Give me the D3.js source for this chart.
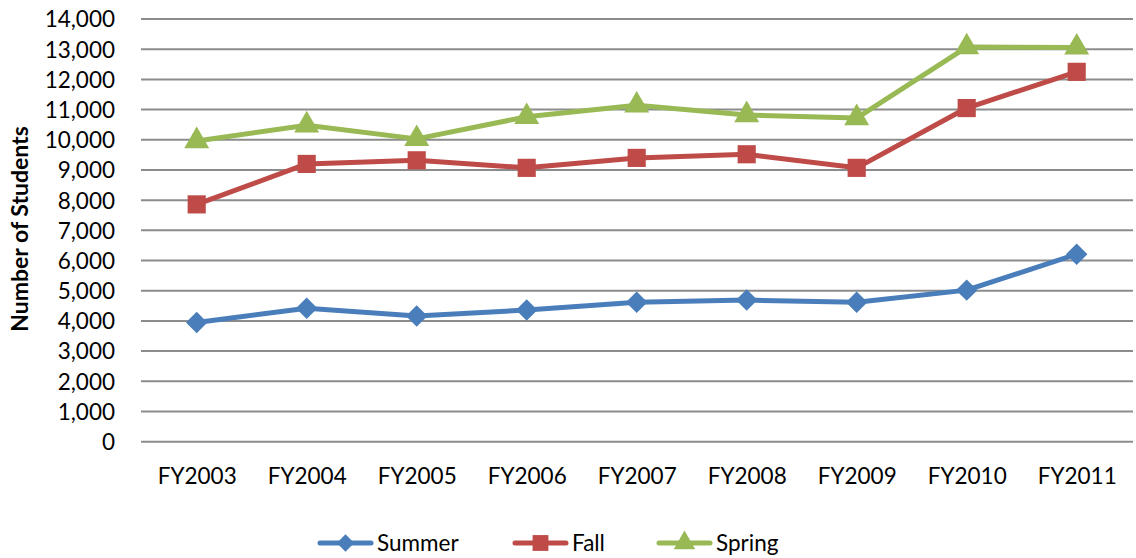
<!DOCTYPE html>
<html><head><meta charset="utf-8">
<script src="https://cdn.jsdelivr.net/npm/d3@7"></script>
<style>body{margin:0;background:#fff}svg{display:block}text{font-family:Lato,"Open Sans",sans-serif;fill:#000}</style>
</head><body><svg id="c" width="1136" height="558"></svg>
<script>
const categories = ["FY2003","FY2004","FY2005","FY2006","FY2007","FY2008","FY2009","FY2010","FY2011"];
const summer = [3950,4420,4160,4360,4620,4690,4620,5020,6210];
const fall   = [7860,9200,9320,9070,9400,9520,9070,11050,12250];
const spring = [9960,10480,10030,10760,11140,10820,10720,13070,13060];
const yTicks = [0,1000,2000,3000,4000,5000,6000,7000,8000,9000,10000,11000,12000,13000,14000];
const seriesNames = ["Summer","Fall","Spring"];
const seriesColors = ["#4A7EBB","#BE4B48","#98B954"];
const seriesData = [summer, fall, spring];
const markerTypes = [d3.symbolSquare, d3.symbolSquare, d3.symbolTriangle];
const markerRot = [45, 0, 0];

const svg = d3.select("#c");
const x = d3.scalePoint().domain(categories).range([141.7,1131.7]).padding(0.5);
const y = d3.scaleLinear().domain([0,14000]).range([441.7,19]);

// gridlines
svg.append("g").selectAll("line").data(yTicks).join("line")
  .attr("x1",141).attr("x2",1133)
  .attr("y1",d=>y(d)).attr("y2",d=>y(d))
  .attr("stroke","#8c8c8c").attr("stroke-width",2);

// y axis labels
const yAxis = d3.axisLeft(y).tickValues(yTicks).tickFormat(d3.format(",")).tickSize(0).tickPadding(0);
const yg = svg.append("g").attr("transform","translate(115,0)").call(yAxis);
yg.select(".domain").remove();
yg.selectAll("text").attr("font-size",22.5).attr("font-family","Lato").attr("fill","#000").attr("dy","0.35em");

// x axis labels
const xAxis = d3.axisBottom(x).tickSize(0).tickPadding(0);
const xg = svg.append("g").attr("transform","translate(0,468)").call(xAxis);
xg.select(".domain").remove();
xg.selectAll("text").attr("font-size",22.5).attr("font-family","Lato").attr("fill","#000").attr("dy","0.71em");

// y title
svg.append("text").attr("transform","translate(28,229) rotate(-90)")
  .attr("text-anchor","middle").attr("font-size",23).attr("font-weight","bold")
  .text("Number of Students");

const line = d3.line().x((d,i)=>x(categories[i])).y(d=>y(d));
seriesData.forEach((data,k)=>{
  svg.append("path").datum(data).attr("d",line)
    .attr("fill","none").attr("stroke",seriesColors[k]).attr("stroke-width",5)
    .attr("stroke-linejoin","round").attr("stroke-linecap","round");
  const sizes = [230,330,270];
  svg.append("g").selectAll("path").data(data).join("path")
    .attr("transform",(d,i)=>`translate(${x(categories[i])},${y(d)}) rotate(${markerRot[k]})`)
    .attr("d",d3.symbol().type(markerTypes[k]).size(sizes[k]))
    .attr("fill",seriesColors[k]);
});

// legend
const legX = [320,515,659];
const legY = 543;
seriesNames.forEach((n,k)=>{
  const g = svg.append("g");
  g.append("line").attr("x1",legX[k]).attr("x2",legX[k]+51).attr("y1",legY).attr("y2",legY)
    .attr("stroke",seriesColors[k]).attr("stroke-width",5).attr("stroke-linecap","round");
  const sizes=[150,250,200];
  g.append("path").attr("transform",`translate(${legX[k]+25.5},${legY}) rotate(${markerRot[k]})`)
    .attr("d",d3.symbol().type(markerTypes[k]).size(sizes[k])).attr("fill",seriesColors[k]);
  g.append("text").attr("x",legX[k]+57).attr("y",legY).attr("dy","0.35em")
    .attr("font-size",22.5).text(n);
});
</script></body></html>
